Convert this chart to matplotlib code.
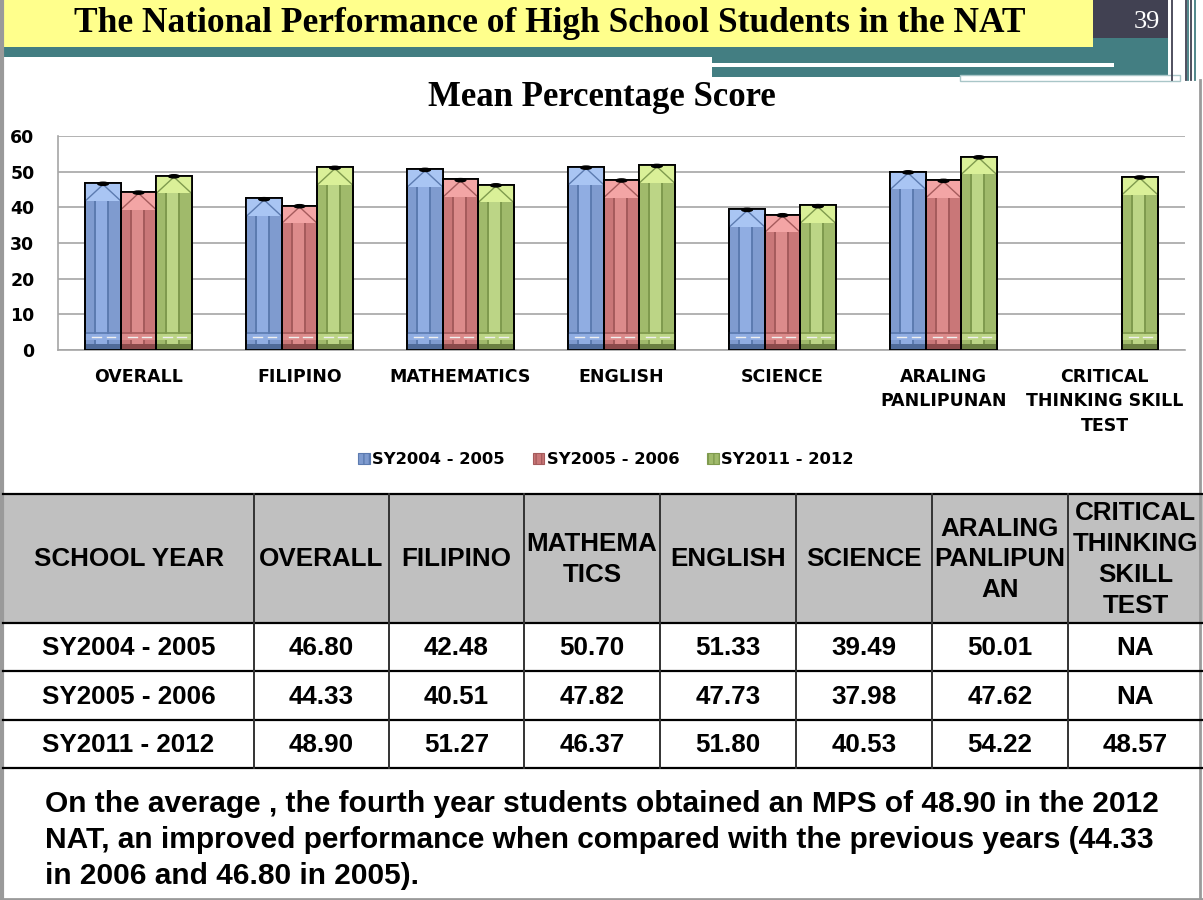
import numpy as np
import matplotlib
matplotlib.use("Agg")
import matplotlib.pyplot as plt
from matplotlib.patches import Rectangle, Polygon, Ellipse

# data
categories = ["OVERALL", "FILIPINO", "MATHEMATICS", "ENGLISH", "SCIENCE",
              "ARALING\nPANLIPUNAN", "CRITICAL\nTHINKING SKILL\nTEST"]
years = ["SY2004 - 2005", "SY2005 - 2006", "SY2011 - 2012"]
sy0405 = [46.80, 42.48, 50.70, 51.33, 39.49, 50.01, np.nan]
sy0506 = [44.33, 40.51, 47.82, 47.73, 37.98, 47.62, np.nan]
sy1112 = [48.90, 51.27, 46.37, 51.80, 40.53, 54.22, 48.57]
table_header = ["SCHOOL YEAR", "OVERALL", "FILIPINO", "MATHEMA\nTICS", "ENGLISH",
                "SCIENCE", "ARALING\nPANLIPUN\nAN", "CRITICAL\nTHINKING\nSKILL\nTEST"]
title = "The National Performance of High School Students in the NAT"
chart_title = "Mean Percentage Score"
slide_no = "39"
note_lines = ["On the average , the fourth year students obtained an MPS of 48.90 in the 2012",
              "NAT, an improved performance when compared with the previous years (44.33",
              "in 2006 and 46.80 in 2005)."]

# pencil colours: base, light stripe, tip, dark line, bottom
pal = [
    dict(base="#7f9bcf", light="#90ade2", tip="#a9c5f3", line="#5c7bb0", bot="#506b99"),
    dict(base="#c97778", light="#dc8b8b", tip="#f3a5a5", line="#a55b5c", bot="#8b4a4b"),
    dict(base="#a0ba6b", light="#bcd586", tip="#daf098", line="#7f9a4e", bot="#6b8042"),
]

W, H = 1203, 900
fig = plt.figure(figsize=(W / 100, H / 100), dpi=100)
fig.patch.set_facecolor("white")

bg = fig.add_axes([0, 0, 1, 1])
bg.set_xlim(0, W)
bg.set_ylim(H, 0)
bg.axis("off")

# header decoration
teal = "#437e82"
bg.add_patch(Rectangle((3, 38), 1165, 19, color=teal, lw=0))
bg.add_patch(Rectangle((712, 57), 456, 20, color=teal, lw=0))
bg.add_patch(Rectangle((712, 63), 402, 3.5, color="white", lw=0))
bg.add_patch(Rectangle((3, 0), 1090, 47, color="#ffff8c", lw=0))
bg.add_patch(Rectangle((1093, 0), 75, 38, color="#414152", lw=0))
bg.add_patch(Rectangle((960, 75), 220, 6, facecolor="white", edgecolor="#a9c6c8", lw=1))
for xv, c in [(1172, "#414152"), (1186, "#414152"), (1188, teal), (1191, "#414152"), (1195, teal)]:
    bg.plot([xv, xv], [0, 80], color=c, lw=1.3)
bg.text(550, 23, title, family="Liberation Serif", weight="bold", fontsize=25.5,
        ha="center", va="center", color="black")
bg.text(1147, 22, slide_no, family="Liberation Serif", fontsize=19,
        ha="center", va="center", color="white")
bg.text(602, 97, chart_title, family="Liberation Serif", weight="bold", fontsize=25,
        ha="center", va="center", color="black")

# slide borders
bg.plot([2, 2], [0, H], color="#9a9a9a", lw=3)
bg.plot([1200, 1200], [80, H], color="#9a9a9a", lw=2)
bg.plot([0, W], [898.5, 898.5], color="#9a9a9a", lw=2)

# chart
ax = fig.add_axes([58 / W, 1 - 350 / H, (1185 - 58) / W, (350 - 136) / H])
ax.set_facecolor("none")
x = np.arange(len(categories))
bw = 0.22
series = [sy0405, sy0506, sy1112]
for i, vals in enumerate(series):
    c = pal[i]
    bars = ax.bar(x + (i - 1) * bw, vals, bw, color=c["base"], edgecolor="black",
                  lw=1.3, zorder=3)
    for r in bars:
        h = r.get_height()
        if not np.isfinite(h):
            continue
        x0, w = r.get_x(), r.get_width()
        # light stripe and groove lines
        ax.add_patch(Rectangle((x0 + 0.3 * w, 1.5), 0.34 * w, h - 6.5,
                               color=c["light"], lw=0, zorder=3.1))
        for f in (0.28, 0.65):
            ax.plot([x0 + f * w] * 2, [1.5, h - 5], color=c["line"], lw=1.4, zorder=3.2)
        # ferrule at bottom
        ax.add_patch(Rectangle((x0, 0), w, 1.6, color=c["bot"], lw=0, zorder=3.3))
        ax.add_patch(Rectangle((x0, 2.8), w, 1.6, color=c["light"], lw=0, zorder=3.3))
        ax.plot([x0, x0 + w], [4.8, 4.8], color=c["line"], lw=1.2, zorder=3.3)
        ax.plot([x0 + 0.2 * w, x0 + 0.45 * w], [3.6, 3.6], color="#f0f0f0", lw=1, zorder=3.4)
        ax.plot([x0 + 0.6 * w, x0 + 0.85 * w], [3.6, 3.6], color="#f0f0f0", lw=1, zorder=3.4)
        # sharpened tip
        ax.add_patch(Rectangle((x0, h - 5), w, 5, color=c["tip"], lw=0, zorder=3.5))
        ax.add_patch(Polygon([(x0, h - 5), (x0 + w / 2, h - 0.4), (x0 + w, h - 5)],
                             closed=False, fill=False, edgecolor=c["line"], lw=1, zorder=3.6))
        ax.add_patch(Ellipse((x0 + w / 2, h - 0.2), 0.3 * w, 0.9, color="black", zorder=3.7))
        ax.add_patch(Rectangle((x0, 0), w, h, fill=False, edgecolor="black", lw=1.3, zorder=3.8))

ax.set_xlim(-0.5, len(categories) - 0.5)
ax.set_ylim(0, 60)
ax.set_yticks(range(0, 61, 10))
ax.yaxis.grid(True, color="#a6a6a6", lw=1.2, zorder=0)
ax.set_axisbelow(True)
for s in ("top", "right"):
    ax.spines[s].set_visible(False)
ax.spines["left"].set_color("#a6a6a6")
ax.spines["bottom"].set_color("#a6a6a6")
ax.spines["left"].set_linewidth(1.2)
ax.spines["bottom"].set_linewidth(1.2)
ax.tick_params(length=0)
ax.tick_params(axis="y", pad=17)
ax.tick_params(axis="x", pad=13)
ax.set_xticks(x)
ax.set_xticklabels(categories, fontweight="bold", fontsize=12.5, linespacing=1.45, va="top")
for lab in ax.get_yticklabels():
    lab.set_fontweight("bold")
    lab.set_fontsize(12.5)

handles = [Rectangle((0, 0), 1, 1, facecolor=p["base"], edgecolor=p["line"], hatch="|||", lw=0.8)
           for p in pal]
leg = fig.legend(handles, years, loc="center", bbox_to_anchor=(606 / W, 1 - 460 / H),
                 ncol=3, frameon=False, prop=dict(weight="bold", size=11.8),
                 handlelength=0.7, handleheight=0.7, handletextpad=0.15, columnspacing=1.7)

# table
col_edges = [3, 254, 389, 524, 660, 796, 932, 1068, 1203]
row_edges = [494, 623, 671, 720, 768]
bg.add_patch(Rectangle((col_edges[0], row_edges[0]), col_edges[-1] - col_edges[0],
                       row_edges[1] - row_edges[0], color="#c0c0c0", lw=0))
for yv in row_edges:
    bg.plot([col_edges[0], col_edges[-1]], [yv, yv], color="black", lw=1.6)
for xv in col_edges[1:-1]:
    bg.plot([xv, xv], [row_edges[0], row_edges[-1]], color="#333333", lw=1.4)

tfont = dict(family="Liberation Sans", weight="bold", fontsize=18.7, ha="center", va="center")
for j, lab in enumerate(table_header):
    cx = (col_edges[j] + col_edges[j + 1]) / 2
    bg.text(cx, (row_edges[0] + row_edges[1]) / 2 + 1, lab, linespacing=1.36, **tfont)
for r, (yr, vals) in enumerate(zip(years, series)):
    cy = (row_edges[r + 1] + row_edges[r + 2]) / 2
    cells = [yr] + ["NA" if not np.isfinite(v) else f"{v:.2f}" for v in vals]
    for j, s in enumerate(cells):
        cx = (col_edges[j] + col_edges[j + 1]) / 2
        bg.text(cx, cy + 1, s, **tfont)

# note
for k, line in enumerate(note_lines):
    bg.text(45, 804 + 36 * k, line, family="Liberation Sans", weight="bold",
            fontsize=21.5, ha="left", va="center")

fig.savefig("out.png", dpi=100)
